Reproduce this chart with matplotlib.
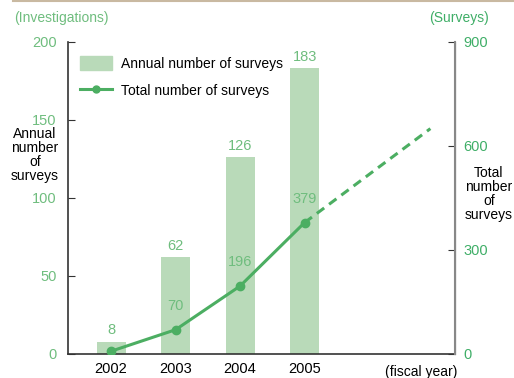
import matplotlib
import numpy as np
import matplotlib.pyplot as plt
from matplotlib.patches import Patch
from matplotlib.lines import Line2D

plt.rcParams['font.family'] = ['Liberation Sans', 'DejaVu Sans']

# data
years = ['2002', '2003', '2004', '2005']
annual = [8, 62, 126, 183]
total = [8, 70, 196, 379]
proj_x = 4.95          # projected end point of the dashed line
proj_total = 650

bar_color = '#b9dab9'
line_color = '#4cae62'
label_color = '#6fbd7e'
right_tick_color = '#3fae67'
fs = 10

fig = plt.figure(figsize=(5.14, 3.78), dpi=100)
ax = fig.add_axes([0.132, 0.0635, 0.753, 0.8255])
ax2 = ax.twinx()

x = np.arange(len(years))
ax.bar(x, annual, width=0.45, color=bar_color, zorder=1)
for xi, v in zip(x, annual):
    ax.annotate(str(v), (xi, v), xytext=(0, 3), textcoords='offset points',
                ha='center', va='bottom', color=label_color, fontsize=fs + 0.5)

ax2.plot(x, total, color=line_color, lw=2.2, marker='o', ms=6, zorder=3)
ax2.plot([x[-1], proj_x], [total[-1], proj_total], color=line_color, lw=2.2,
         ls=(0, (3, 2)), zorder=3)
# the first total equals the bar value, only the bar label is shown there
for xi, v in zip(x[1:], total[1:]):
    ax2.annotate(str(v), (xi, v), xytext=(0, 17), textcoords='offset points',
                 ha='center', va='center', color=label_color, fontsize=fs + 0.5)

ax.set_xlim(-0.67, 5.33)
ax.set_ylim(0, 200)
ax2.set_ylim(0, 900)
ax.set_yticks([0, 50, 100, 150, 200])
ax2.set_yticks([0, 300, 600, 900])
ax.set_xticks(x)
ax.set_xticklabels(years, fontsize=fs + 0.5)

ax.tick_params(axis='y', direction='in', length=5, colors='#333333', labelcolor=label_color, labelsize=fs + 0.5, pad=8)
ax2.tick_params(axis='y', direction='in', length=5, colors='#333333', labelcolor=right_tick_color, labelsize=fs + 0.5, pad=6)
ax.tick_params(axis='x', length=0, labelsize=fs + 0.5, pad=6)

for a in (ax, ax2):
    a.spines['top'].set_visible(False)
ax.spines['left'].set_color('#333333')
ax.spines['bottom'].set_color('#333333')
ax2.spines['right'].set_color('#888888')
ax2.spines['left'].set_visible(False)
ax2.spines['bottom'].set_visible(False)
ax.spines['left'].set_linewidth(1.2)
ax.spines['bottom'].set_linewidth(1.2)
ax2.spines['right'].set_linewidth(1.5)

handles = [Patch(color=bar_color), Line2D([0], [0], color=line_color, lw=2.2, marker='o', ms=5)]
ax.legend(handles, ['Annual number of surveys', 'Total number of surveys'],
          loc='upper left', bbox_to_anchor=(0.0, 0.995), frameon=False, fontsize=fs,
          handlelength=2.3, handleheight=1.2, handletextpad=0.6, labelspacing=0.9)

fig.text(0.028, 0.953, '(Investigations)', color=label_color, fontsize=fs, va='center')
fig.text(0.952, 0.953, '(Surveys)', color=right_tick_color, fontsize=fs, va='center', ha='right')
fig.text(0.068, 0.59, 'Annual\nnumber\nof\nsurveys', ha='center', va='center', fontsize=fs, linespacing=1.0)
fig.text(0.951, 0.487, 'Total\nnumber\nof\nsurveys', ha='center', va='center', fontsize=fs, linespacing=1.0)
fig.text(0.89, 0.017, '(fiscal year)', ha='right', va='center', fontsize=fs)
fig.add_artist(Line2D([0.025, 1.0], [0.998, 0.998], color='#c9b9a1', lw=1.5))

fig.savefig('out.png', dpi=100)
